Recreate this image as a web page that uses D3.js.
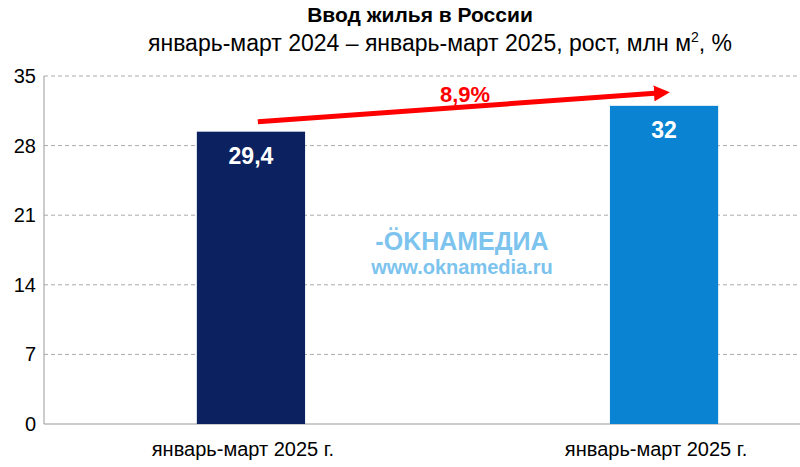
<!DOCTYPE html><html><head><meta charset="utf-8">
<script src="https://cdn.jsdelivr.net/npm/d3@7"></script>
<style>body{margin:0;background:#fff}text{font-family:Arial,"Liberation Sans",sans-serif}</style></head><body>
<svg id="c" width="800" height="467"></svg>
<script>
const categories=["январь-март 2025 г.","январь-март 2025 г."];
const values=[29.4,32];
const valueLabels=["29,4","32"];
const colors=["#0c2260","#0a84d2"];
const ticks=[0,7,14,21,28,35];
const growth="8,9%";
const svg=d3.select("#c");
const L=44,R=800,T=76,B=424;
const x=d3.scaleBand().domain([0,1]).range([L,L+827]).paddingInner(0.738).paddingOuter(0.37);
const y=d3.scaleLinear().domain([0,35]).range([B,T]);
svg.append("g").selectAll("line").data(ticks.slice(1)).join("line")
 .attr("x1",L).attr("x2",R).attr("y1",d=>y(d)).attr("y2",d=>y(d))
 .attr("stroke","#aaa").attr("stroke-dasharray","4,3");
svg.append("line").attr("x1",L).attr("x2",L).attr("y1",T).attr("y2",B).attr("stroke","#999");
svg.append("line").attr("x1",L).attr("x2",R).attr("y1",B).attr("y2",B).attr("stroke","#999");
svg.append("g").selectAll("text").data(ticks).join("text").attr("x",36).attr("y",d=>y(d)+7)
 .attr("text-anchor","end").attr("font-size",20).text(d=>d);
svg.append("text").attr("x",420).attr("y",22).attr("text-anchor","middle").attr("font-size",21).attr("font-weight","bold").text("Ввод жилья в России");
const st=svg.append("text").attr("x",440).attr("y",51).attr("text-anchor","middle").attr("font-size",23);
st.append("tspan").text("январь-март 2024 – январь-март 2025, рост, млн м");
st.append("tspan").attr("font-size",14).attr("dy",-9).text("2");
st.append("tspan").attr("dy",9).text(", %");
svg.append("text").attr("x",462).attr("y",250).attr("text-anchor","middle").attr("font-size",25).attr("font-weight","bold").attr("fill","#7cc3ee").text("-ÖKHAMEДИA");
svg.append("text").attr("x",462).attr("y",274).attr("text-anchor","middle").attr("font-size",20).attr("font-weight","bold").attr("fill","#7cc3ee").text("www.oknamedia.ru");
svg.append("g").selectAll("rect").data(values).join("rect")
 .attr("x",(d,i)=>x(i)).attr("width",x.bandwidth()).attr("y",d=>y(d)).attr("height",d=>B-y(d)).attr("fill",(d,i)=>colors[i]);
svg.append("g").selectAll("text").data(values).join("text").attr("x",(d,i)=>x(i)+x.bandwidth()/2).attr("y",d=>y(d)+32)
 .attr("text-anchor","middle").attr("font-size",23).attr("font-weight","bold").attr("fill","#fff").text((d,i)=>valueLabels[i]);
svg.append("g").selectAll("text").data(categories).join("text").attr("x",(d,i)=>x(i)+x.bandwidth()/2-8).attr("y",456)
 .attr("text-anchor","middle").attr("font-size",20).text(d=>d);
svg.append("defs").append("marker").attr("id","ah").attr("viewBox","0 0 10 10").attr("refX",5).attr("refY",5)
 .attr("markerWidth",3.2).attr("markerHeight",3.2).attr("orient","auto").append("path").attr("d","M0,0L10,5L0,10z").attr("fill","#f00");
svg.append("line").attr("x1",x(0)+61).attr("y1",y(values[0])-10).attr("x2",x(1)+52).attr("y2",y(values[1])-13)
 .attr("stroke","#f00").attr("stroke-width",5).attr("marker-end","url(#ah)");
svg.append("text").attr("x",465).attr("y",102).attr("text-anchor","middle").attr("font-size",22).attr("font-weight","bold").attr("fill","#f00").text(growth);
</script></body></html>
